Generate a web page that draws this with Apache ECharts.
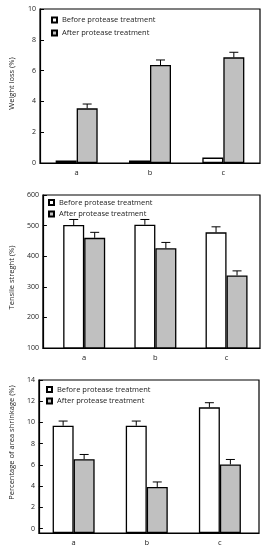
<!DOCTYPE html>
<html><head><meta charset="utf-8">
<script src="https://cdn.jsdelivr.net/npm/echarts@6/dist/echarts.min.js"></script>
<style>html,body{margin:0;padding:0;background:#fff}#c{width:274px;height:550px}</style>
</head><body><div id="c"></div>
<script>
const categories = ['a', 'b', 'c'];
const seriesNames = ['Before protease treatment', 'After protease treatment'];

// Chart 1: weight loss (%)
const weightBefore = [0.17, 0.17, 0.35];
const weightAfter = [3.55, 6.36, 6.86];
const weightBeforeErr = [0, 0, 0];
const weightAfterErr = [0.28, 0.33, 0.33];

// Chart 2: tensile strength
const tensileBefore = [502, 503, 478];
const tensileAfter = [460, 426, 337];
const tensileBeforeErr = [18, 17, 18];
const tensileAfterErr = [18, 19, 15];

// Chart 3: area shrinkage (%)
const shrinkBefore = [9.69, 9.69, 11.42];
const shrinkAfter = [6.54, 3.92, 6.04];
const shrinkBeforeErr = [0.44, 0.44, 0.44];
const shrinkAfterErr = [0.44, 0.47, 0.47];
const shrinkTicks = [0, 2, 4, 6, 8, 10, 12, 14];

const FONT = 'Open Sans';
const BW = 21;
const chart = echarts.init(document.getElementById('c'), null, {renderer: 'canvas'});

function pairs(arr) { return arr.map((v, i) => [i, v]); }
function errData(vals, errs) { return vals.map((v, i) => [i, v, v + errs[i]]); }

function errSeries(idx, vals, errs, dx) {
  return {
    type: 'custom', xAxisIndex: idx, yAxisIndex: idx, z: 5, silent: true,
    data: errData(vals, errs),
    renderItem: function (params, api) {
      const top = api.coord([api.value(0), api.value(1)]);
      const hi = api.coord([api.value(0), api.value(2)]);
      if (api.value(2) - api.value(1) <= 0) return null;
      const x = top[0] + dx;
      return {
        type: 'group',
        children: [
          {type: 'line', shape: {x1: x, y1: top[1], x2: x, y2: hi[1]}, style: {stroke: '#000', lineWidth: 1}},
          {type: 'line', shape: {x1: x - 4.5, y1: hi[1], x2: x + 4.5, y2: hi[1]}, style: {stroke: '#000', lineWidth: 1}}
        ]
      };
    }
  };
}

function barSeries(idx, name, vals, color) {
  return {
    type: 'bar', name: name, xAxisIndex: idx, yAxisIndex: idx,
    data: pairs(vals), barWidth: BW, barGap: '0%',
    itemStyle: {color: color, borderColor: '#000', borderWidth: 1.3},
    clip: true
  };
}

const grids = [
  {left: 40, top: 9, width: 220, height: 154},
  {left: 40, top: 195, width: 220, height: 153},
  {left: 38, top: 380, width: 221, height: 153}
];
const xRanges = [[-0.5, 2.5], [-0.58, 2.47], [-0.475, 2.535]];

const xAxes = grids.map((g, i) => ({
  type: 'value', gridIndex: i, min: xRanges[i][0], max: xRanges[i][1],
  axisLine: {show: true, onZero: false, lineStyle: {color: '#000', width: 1.2}},
  axisTick: {show: false}, splitLine: {show: false},
  axisLabel: {customValues: [0, 1, 2], formatter: v => categories[Math.round(v)] || '',
    fontFamily: FONT, fontSize: 7.5, color: '#222', margin: 6}
}));

const yCommon = {
  type: 'value', nameLocation: 'middle',
  axisLine: {show: true, onZero: false, lineStyle: {color: '#000', width: 1.2}},
  axisTick: {show: true, inside: true, length: 4, lineStyle: {color: '#000', width: 1}},
  splitLine: {show: false},
  axisLabel: {fontFamily: FONT, fontSize: 7, color: '#222', margin: 4}
};
const nameStyle = pad => ({fontFamily: FONT, fontSize: 7.5, color: '#222', padding: pad});
const yAxes = [
  Object.assign({}, yCommon, {gridIndex: 0, min: 0, max: 10, interval: 2, name: 'Weight loss (%)', nameGap: 24,
    nameTextStyle: nameStyle([0, 0, 0, 5])}),
  Object.assign({}, yCommon, {gridIndex: 1, min: 100, max: 600, interval: 100, name: 'Tensile streght (%)', nameGap: 26,
    nameTextStyle: nameStyle([0, 12, 0, 0])}),
  Object.assign({}, yCommon, {gridIndex: 2, min: -0.42, max: 14, startValue: -0.42, name: 'Percentage of area shrinkage (%)', nameGap: 21,
    nameTextStyle: nameStyle([0, 0, 0, 28]),
    axisLabel: Object.assign({}, yCommon.axisLabel, {customValues: shrinkTicks}),
    axisTick: Object.assign({}, yCommon.axisTick, {customValues: shrinkTicks})})
];

const legendTops = [15.5, 198, 385];
const legendLefts = [51, 48, 46];
const legendGaps = [4, 2.6, 2.5];
const legends = legendTops.map((t, i) => ({
  orient: 'vertical', left: legendLefts[i], top: t, padding: 0, icon: 'rect',
  itemWidth: 5, itemHeight: 5, itemGap: legendGaps[i],
  data: seriesNames, selectedMode: false,
  textStyle: {fontFamily: FONT, fontSize: 7.5, color: '#222', lineHeight: 9}
}));

const series = [
  barSeries(0, seriesNames[0], weightBefore, '#ffffff'),
  barSeries(0, seriesNames[1], weightAfter, '#c0c0c0'),
  errSeries(0, weightBefore, weightBeforeErr, -BW / 2),
  errSeries(0, weightAfter, weightAfterErr, BW / 2),
  barSeries(1, seriesNames[0], tensileBefore, '#ffffff'),
  barSeries(1, seriesNames[1], tensileAfter, '#c0c0c0'),
  errSeries(1, tensileBefore, tensileBeforeErr, -BW / 2),
  errSeries(1, tensileAfter, tensileAfterErr, BW / 2),
  barSeries(2, seriesNames[0], shrinkBefore, '#ffffff'),
  barSeries(2, seriesNames[1], shrinkAfter, '#c0c0c0'),
  errSeries(2, shrinkBefore, shrinkBeforeErr, -BW / 2),
  errSeries(2, shrinkAfter, shrinkAfterErr, BW / 2)
];

chart.setOption({
  animation: false,
  backgroundColor: '#fff',
  grid: grids.map(g => Object.assign({show: true, borderColor: '#000', borderWidth: 1.2, backgroundColor: 'transparent'}, g)),
  xAxis: xAxes,
  yAxis: yAxes,
  legend: legends,
  series: series
});
</script></body></html>
